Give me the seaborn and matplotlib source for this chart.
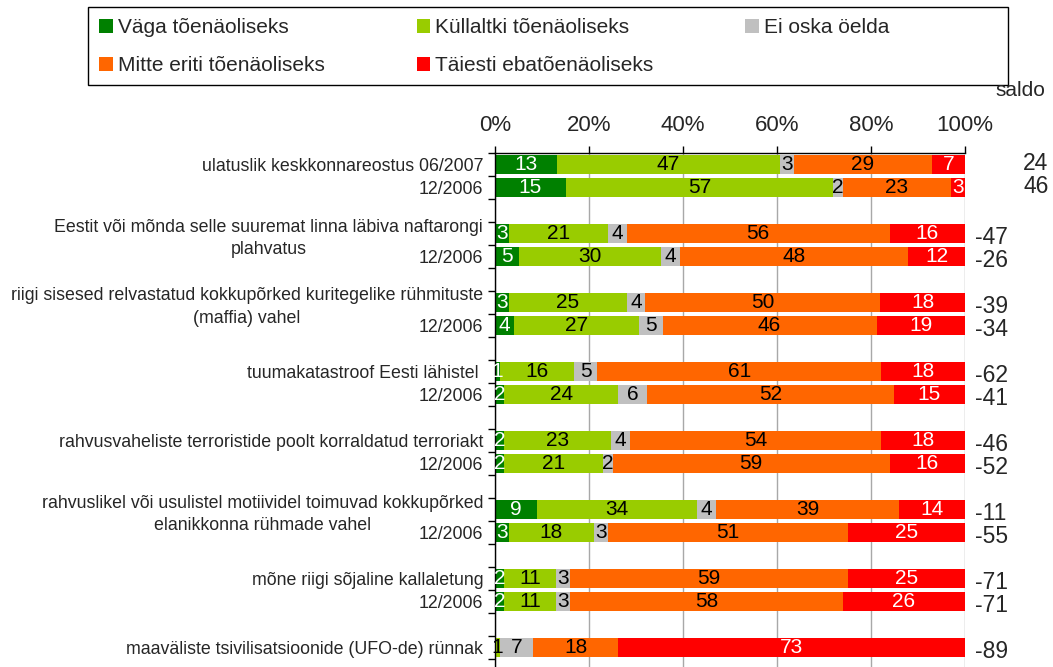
import numpy as np
import pandas as pd
import matplotlib
matplotlib.use("Agg")
import matplotlib.pyplot as plt
import seaborn as sns
from matplotlib.patches import Patch, Rectangle
from matplotlib.transforms import blended_transform_factory

# ---------------- data ----------------
series_names = ["Väga tõenäoliseks", "Küllaltki tõenäoliseks", "Ei oska öelda",
                "Mitte eriti tõenäoliseks", "Täiesti ebatõenäoliseks"]
series_colors = ["#008000", "#99CC00", "#C0C0C0", "#FF6600", "#FF0000"]
label_colors = ["white", "black", "black", "black", "white"]

row_labels = [
    "ulatuslik keskkonnareostus 06/2007", "12/2006",
    "Eestit või mõnda selle suuremat linna läbiva naftarongi\nplahvatus", "12/2006",
    "riigi sisesed relvastatud kokkupõrked kuritegelike rühmituste\n(maffia) vahel", "12/2006",
    "tuumakatastroof Eesti lähistel ", "12/2006",
    "rahvusvaheliste terroristide poolt korraldatud terroriakt", "12/2006",
    "rahvuslikel või usulistel motiividel toimuvad kokkupõrked\nelanikkonna rühmade vahel", "12/2006",
    "mõne riigi sõjaline kallaletung", "12/2006",
    "maaväliste tsivilisatsioonide (UFO-de) rünnak",
]
vaga      = [13, 15,  3,  5,  3,  4,  1,  2,  2,  2,  9,  3,  2,  2,  0]
kyllaltki = [47, 57, 21, 30, 25, 27, 16, 24, 23, 21, 34, 18, 11, 11,  1]
ei_oska   = [ 3,  2,  4,  4,  4,  5,  5,  6,  4,  2,  4,  3,  3,  3,  7]
mitte     = [29, 23, 56, 48, 50, 46, 61, 52, 54, 59, 39, 51, 59, 58, 18]
taiesti   = [ 7,  3, 16, 12, 18, 19, 18, 15, 18, 16, 14, 25, 25, 26, 73]
saldo     = [24, 46, -47, -26, -39, -34, -62, -41, -46, -52, -11, -55, -71, -71, -89]
x_ticks = [0, 20, 40, 60, 80, 100]

# ---------------- prep ----------------
values = np.array([vaga, kyllaltki, ei_oska, mitte, taiesti], dtype=float).T
pct = values / values.sum(axis=1, keepdims=True) * 100
cum = np.cumsum(pct, axis=1)
left = cum - pct

keys = [f"r{i}" for i in range(len(row_labels))]
order = []
for i, k in enumerate(keys):
    order.append(k)
    if i % 2 == 1 and i < len(keys) - 1:
        order.append(f"gap{i}")
pos = {k: i for i, k in enumerate(order)}

df = pd.DataFrame({"key": keys})
for j in range(5):
    df[f"cum{j}"] = cum[:, j]

# ---------------- style ----------------
sns.set_style("white")
plt.rcParams["font.family"] = ["Liberation Sans", "DejaVu Sans"]

W, H = 1053, 667
fig = plt.figure(figsize=(W / 100, H / 100), dpi=100)
ax = fig.add_axes([495 / W, (H - 682) / H, 470 / W, 529 / H])

for j in reversed(range(5)):
    sns.barplot(data=df, x=f"cum{j}", y="key", order=order, orient="y",
                color=series_colors[j], saturation=1, width=0.85,
                linewidth=0, errorbar=None, ax=ax)

# bar value labels
for i, k in enumerate(keys):
    y = pos[k]
    for j in range(5):
        if values[i, j] <= 0:
            continue
        ax.text(left[i, j] + pct[i, j] / 2, y, f"{int(values[i, j])}",
                ha="center", va="center", fontsize=15,
                color=label_colors[j], zorder=5)

ax.set_xlim(0, 100)
ax.set_ylim(len(order) + 0.5, -0.5)
ax.set_xlabel("")
ax.set_ylabel("")

# x axis on top
ax.set_xticks(x_ticks, [f"{v}%" for v in x_ticks])
ax.xaxis.tick_top()
ax.tick_params(axis="x", top=True, bottom=False, length=5, width=1,
               color="black", labelsize=16, pad=7)

# y axis
ax.set_yticks([pos[k] for k in keys], row_labels)
ax.set_yticks(np.arange(-0.5, len(order) + 0.5, 1), minor=True)
ax.tick_params(axis="y", which="major", length=0, labelsize=12.8, pad=8.5)
ax.tick_params(axis="y", which="minor", length=5, width=1, color="black",
               direction="out", left=True)
for t in ax.get_yticklabels():
    t.set_multialignment("center")
    t.set_linespacing(1.45)

ax.xaxis.grid(True, color="#A8A8A8", linewidth=1)
ax.yaxis.grid(False)
ax.set_axisbelow(True)

for s in ["right", "bottom"]:
    ax.spines[s].set_visible(False)
for s in ["left", "top"]:
    ax.spines[s].set_color("black")
    ax.spines[s].set_linewidth(1)

# saldo column
fig.text(995 / W, 1 - 90 / H, "saldo", fontsize=15, va="center", ha="left")
tr = blended_transform_factory(ax.transAxes, ax.transData)
for i, k in enumerate(keys):
    y = pos[k]
    if i < 2:
        ax.annotate(f"{saldo[i]}", xy=(1, y), xycoords=tr, xytext=(42, 1),
                    textcoords="offset points", ha="left", va="center",
                    fontsize=16.5, annotation_clip=False)
    else:
        ax.annotate(f"{saldo[i]}", xy=(1, y), xycoords=tr, xytext=(7, -3),
                    textcoords="offset points", ha="left", va="center",
                    fontsize=16.5, annotation_clip=False)

# legend (frame drawn separately to span the full box)
fig.patches.append(Rectangle((88 / W, 1 - 85 / H), (1008 - 88) / W, 78 / H,
                             transform=fig.transFigure, facecolor="white",
                             edgecolor="black", linewidth=1, zorder=0))
handles = [Patch(facecolor=c, edgecolor="none", label=n)
           for c, n in zip(series_colors, series_names)]
leg_order = [0, 3, 1, 4, 2]
leg = fig.legend([handles[i] for i in leg_order], [series_names[i] for i in leg_order],
                 ncol=3, loc="upper left",
                 bbox_to_anchor=(88 / W, 1 - 7 / H),
                 fontsize=15, handlelength=0.65, handleheight=0.65,
                 handletextpad=0.25, labelspacing=0.9, borderpad=0.55,
                 borderaxespad=0, frameon=False, columnspacing=4.4)

fig.savefig("out.png", dpi=100)
